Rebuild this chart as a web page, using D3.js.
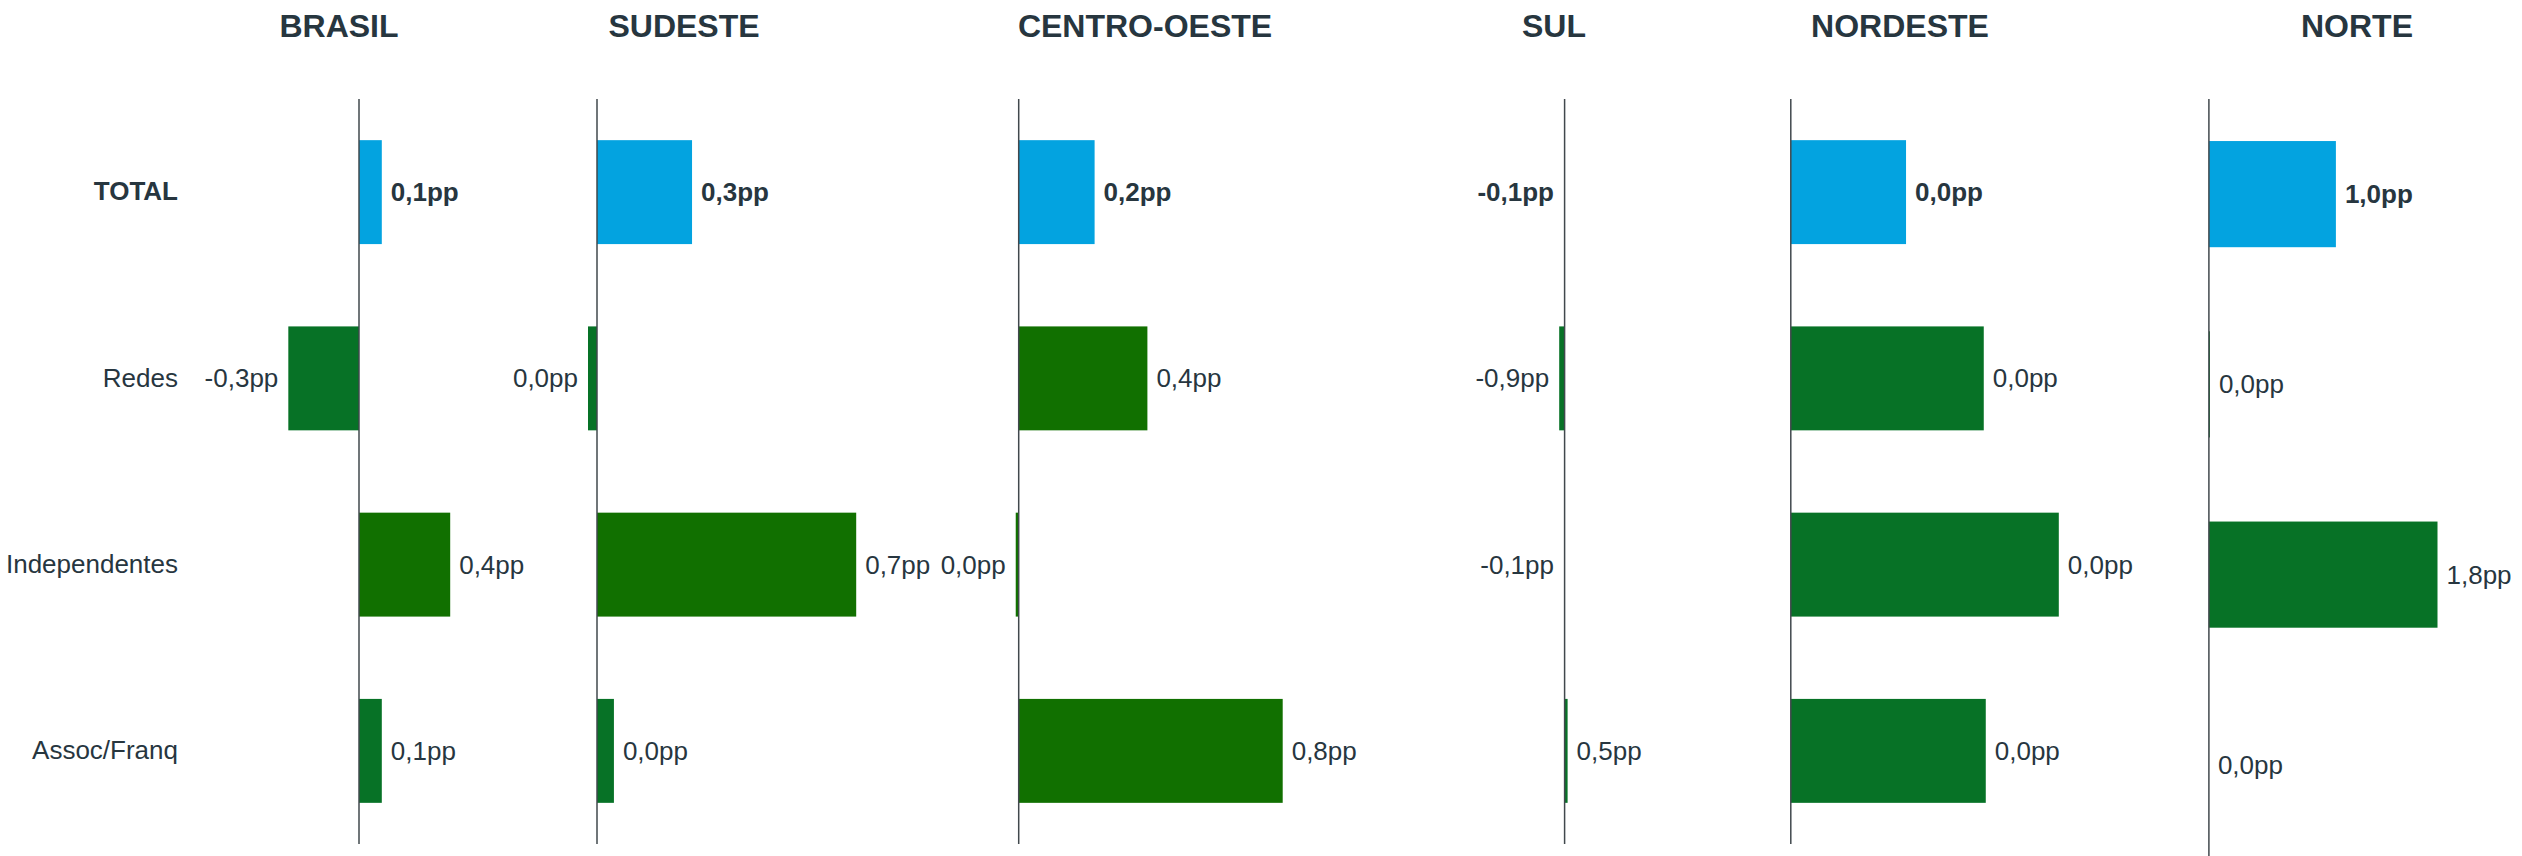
<!DOCTYPE html>
<html>
<head>
<meta charset="utf-8">
<script src="https://cdn.jsdelivr.net/npm/d3@7"></script>
<style>
  html, body { margin: 0; padding: 0; background: #fff; }
  svg { display: block; font-family: 'Liberation Sans', Arial, sans-serif; }
</style>
</head>
<body>
<div id="chart"></div>
<script>
// dados
var regioes = ["BRASIL", "SUDESTE", "CENTRO-OESTE", "SUL", "NORDESTE", "NORTE"];
var categorias = ["TOTAL", "Redes", "Independentes", "Assoc/Franq"];

// valores das barras (pp) por região, na ordem das categorias
var brasil = [0.1, -0.31, 0.4, 0.1];
var sudeste = [0.264, -0.025, 0.72, 0.047];
var centroOeste = [0.23, 0.39, -0.009, 0.8];
var sul = [-0.1, -0.9, -0.1, 0.5];
var nordeste = [0.0172, 0.0288, 0.04, 0.0291];
var norte = [1.0, 0.008, 1.8, 0.0];

// rótulos exibidos
var rotBrasil = ["0,1pp", "-0,3pp", "0,4pp", "0,1pp"];
var rotSudeste = ["0,3pp", "0,0pp", "0,7pp", "0,0pp"];
var rotCentroOeste = ["0,2pp", "0,4pp", "0,0pp", "0,8pp"];
var rotSul = ["-0,1pp", "-0,9pp", "-0,1pp", "0,5pp"];
var rotNordeste = ["0,0pp", "0,0pp", "0,0pp", "0,0pp"];
var rotNorte = ["1,0pp", "0,0pp", "1,8pp", "0,0pp"];

// tom de verde (1 = verde puro)
var tomBrasil = [0, 0, 1, 0];
var tomSudeste = [0, 0, 1, 0];
var tomCentroOeste = [0, 1, 1, 1];
var tomSul = [0, 0, 0, 0];
var tomNordeste = [0, 0, 0, 0];
var tomNorte = [0, 0, 0, 0];

var valores = [brasil, sudeste, centroOeste, sul, nordeste, norte];
var rotulos = [rotBrasil, rotSudeste, rotCentroOeste, rotSul, rotNordeste, rotNorte];
var tons = [tomBrasil, tomSudeste, tomCentroOeste, tomSul, tomNordeste, tomNorte];

// layout de cada painel: posição do zero, px por pp, centro do título, fim do eixo
var zeroX = [359, 597, 1018.7, 1564.6, 1790.8, 2208.9];
var pxPorPP = [228, 360, 330, 6, 6700, 127];
var tituloX = [339, 684, 1145, 1554, 1900, 2357];
var fimEixo = [844, 844, 844, 844, 844, 860];

var width = 2522, height = 856;
var textColor = "#27363f";
var azul = "#03a3e0";
var verde = d3.scaleOrdinal().domain([0, 1]).range(["#077226", "#117000"]);

var svg = d3.select("#chart")
  .append("svg")
  .attr("width", width)
  .attr("height", height);

var yPadrao = d3.scaleBand()
  .domain(categorias)
  .range([99, 844])
  .paddingInner(0.442)
  .paddingOuter(0.221);

// rótulos das categorias
var eixoCat = svg.append("g")
  .attr("transform", "translate(178,0)")
  .call(d3.axisLeft(yPadrao).tickSize(0).tickPadding(0));
eixoCat.select(".domain").remove();
eixoCat.selectAll("text")
  .attr("fill", textColor)
  .style("font-size", "26px")
  .style("font-family", "'Liberation Sans', Arial, sans-serif")
  .style("font-weight", function (d) { return d === "TOTAL" ? "bold" : "normal"; });

regioes.forEach(function (regiao, i) {
  var x = d3.scaleLinear().domain([0, 1]).range([zeroX[i], zeroX[i] + pxPorPP[i]]);
  var y = d3.scaleBand()
    .domain(categorias)
    .range([99, fimEixo[i]])
    .paddingInner(0.442)
    .paddingOuter(0.221);

  var dados = categorias.map(function (c, j) {
    return {cat: c, valor: valores[i][j], rotulo: rotulos[i][j], tom: tons[i][j]};
  });

  var g = svg.append("g").attr("class", "painel");

  g.append("text")
    .attr("x", tituloX[i])
    .attr("y", 37)
    .attr("text-anchor", "middle")
    .attr("fill", textColor)
    .style("font-size", "32px")
    .style("font-weight", "bold")
    .text(regiao);

  g.selectAll("rect")
    .data(dados)
    .enter().append("rect")
    .attr("x", function (d) { return Math.min(x(0), x(d.valor)); })
    .attr("y", function (d) { return y(d.cat); })
    .attr("width", function (d) { return Math.abs(x(d.valor) - x(0)); })
    .attr("height", y.bandwidth())
    .attr("fill", function (d) { return d.cat === "TOTAL" ? azul : verde(d.tom); });

  g.append("line")
    .attr("x1", x(0))
    .attr("x2", x(0))
    .attr("y1", y.range()[0])
    .attr("y2", y.range()[1])
    .attr("stroke", "#41484d")
    .attr("stroke-width", 1.5);

  g.selectAll(".rotulo")
    .data(dados)
    .enter().append("text")
    .attr("class", "rotulo")
    .attr("x", function (d) { return d.valor < 0 ? x(d.valor) - 10 : x(d.valor) + 9; })
    .attr("y", function (d) { return y(d.cat) + y.bandwidth() / 2; })
    .attr("dy", "0.35em")
    .attr("text-anchor", function (d) { return d.valor < 0 ? "end" : "start"; })
    .attr("fill", textColor)
    .style("font-size", "26px")
    .style("font-weight", function (d) { return d.cat === "TOTAL" ? "bold" : "normal"; })
    .text(function (d) { return d.rotulo; });
});
</script>
</body>
</html>
